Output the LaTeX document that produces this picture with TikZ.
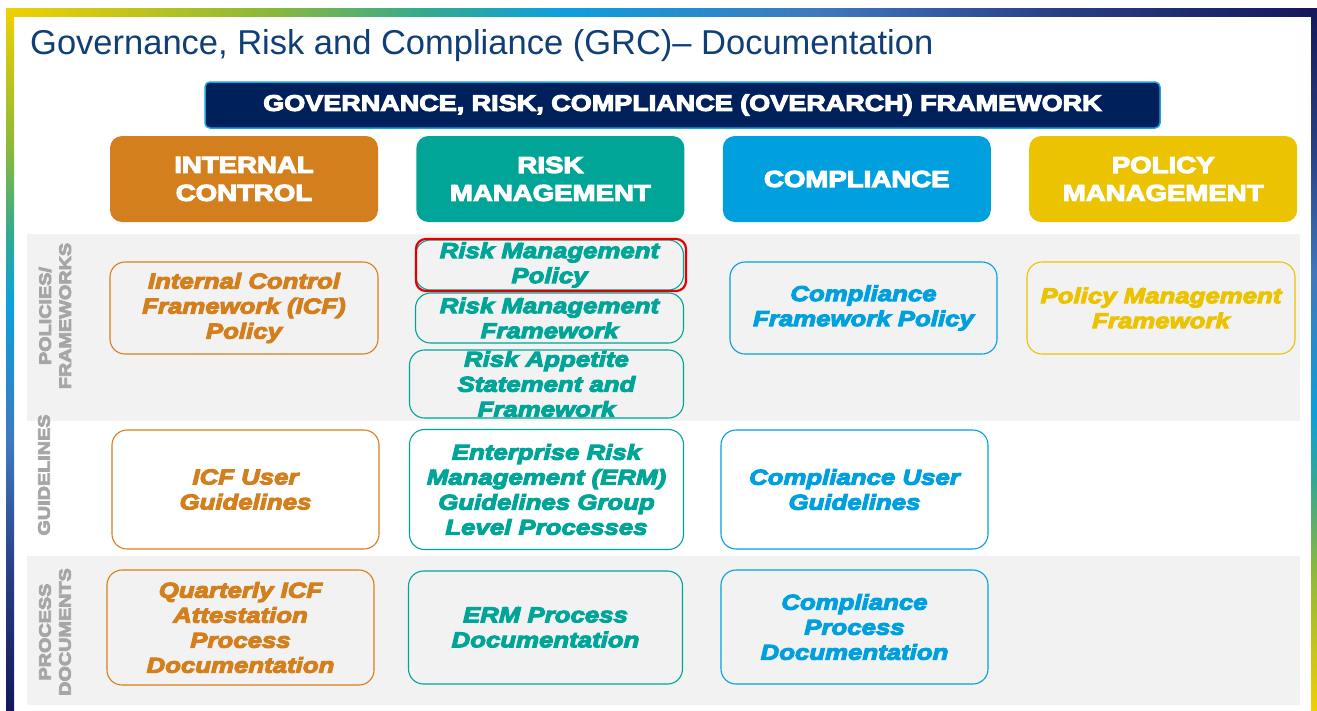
\documentclass[tikz,border=0pt]{standalone}
\usepackage{fontspec}
\setmainfont{Liberation Sans}
\newfontfamily\schwer{Liberation Sans}[FakeStretch=1.2,FakeBold=5]
\usetikzlibrary{positioning}
\usetikzlibrary{fit}

% Farbverlauf fuer den Rahmen
\definecolor{rgelb}{RGB}{240,208,0}
\definecolor{rgruen}{RGB}{140,184,58}
\definecolor{rtuerkis}{RGB}{52,170,142}
\definecolor{rcyan}{RGB}{13,160,220}
\definecolor{rstahl}{RGB}{63,120,191}
\definecolor{rdunkel}{RGB}{42,63,134}
\definecolor{rnavy}{RGB}{20,24,90}
\pgfdeclarehorizontalshading{rahmen}{100bp}{color(0bp)=(rgelb); color(25bp)=(rgelb);
  color(35bp)=(rgruen); color(41bp)=(rtuerkis); color(46bp)=(rcyan);
  color(56bp)=(rstahl); color(65bp)=(rdunkel); color(75bp)=(rnavy); color(100bp)=(rnavy)}

\begin{document}
\begin{tikzpicture}[x=1pt, y=-1pt,
    kopf/.style={rounded corners=12pt, minimum width=268pt, minimum height=86pt, inner sep=0pt,
      text=white, align=center, font=\schwer\bfseries\fontsize{23}{28}\selectfont},
    feld/.style={draw=#1, text=#1, rounded corners=15pt, line width=1.1pt, inner sep=0pt,
      align=center, font=\schwer\bfseries\itshape\fontsize{21.5}{25}\selectfont},
    seite/.style={rotate=90, align=center, text=seitengrau, inner sep=0pt,
      font=\schwer\bfseries\fontsize{16.5}{20}\selectfont}]

    % Farben
    \definecolor{titelblau}{RGB}{16,62,118}
    \definecolor{grcnavy}{RGB}{0,32,91}
    \definecolor{grcrand}{RGB}{27,161,226}
    \definecolor{icorange}{RGB}{212,127,30}
    \definecolor{rmgruen}{RGB}{0,165,152}
    \definecolor{cpblau}{RGB}{0,160,223}
    \definecolor{pmgelb}{RGB}{235,195,0}
    \definecolor{bandgrau}{RGB}{242,242,242}
    \definecolor{seitengrau}{RGB}{166,166,166}
    \definecolor{markrot}{RGB}{228,0,0}

    \useasboundingbox (0,0) rectangle (1317,710);

    % Rahmen
    \shade[shading=rahmen] (6,8) rectangle (1317,16);
    \shade[shading=rahmen, shading angle=-90] (6,8) rectangle (14,710);
    \shade[shading=rahmen, shading angle=90] (1311,8) rectangle (1317,710);

    % graue Baender
    \fill[bandgrau] (27,234) rectangle (1300,421);
    \fill[bandgrau] (27,556) rectangle (1300,705);

    % Titel
    \node[anchor=base west, inner sep=0pt, text=titelblau, font=\fontsize{34.5}{40}\selectfont]
      (titel) at (30,54) {Governance, Risk and Compliance (GRC)– Documentation};

    % Rahmenwerk
    \node[fill=grcnavy, draw=grcrand, line width=1.5pt, rounded corners=5pt, minimum width=955pt,
      minimum height=46pt, inner sep=0pt, text=white, font=\schwer\bfseries\fontsize{22.5}{25}\selectfont]
      (grc) at (682.5,105) {GOVERNANCE, RISK, COMPLIANCE (OVERARCH) FRAMEWORK};

    % Spaltenkoepfe
    \node[kopf, fill=icorange] (ic) at (244,179) {INTERNAL\\CONTROL};
    \node[kopf, fill=rmgruen, right=38pt of ic] (rm) {RISK\\MANAGEMENT};
    \node[kopf, fill=cpblau, right=38pt of rm] (cp) {COMPLIANCE};
    \node[kopf, fill=pmgelb, right=38pt of cp] (pm) {POLICY\\MANAGEMENT};

    % Zeilenbeschriftungen
    \node[seite] (zpol) at (55,316) {POLICIES/\\FRAMEWORKS};
    \node[seite] (zgui) at (44,475) {GUIDELINES};
    \node[seite] (zpro) at (55,632) {PROCESS\\DOCUMENTS};

    % Internal Control
    \node[feld=icorange, minimum width=268pt, minimum height=92pt] (icpol) at (244,308)
      {Internal Control\\Framework (ICF)\\Policy};
    \node[feld=icorange, minimum width=267pt, minimum height=119pt] (icgui) at (245.5,489.5)
      {ICF User\\Guidelines};
    \node[feld=icorange, minimum width=267pt, minimum height=115pt] (icpro) at (240.5,627.5)
      {Quarterly ICF\\Attestation\\Process\\Documentation};

    % Risk Management
    \node[feld=rmgruen, minimum width=268pt, minimum height=50pt] (rmpol) at (549.5,265)
      {Risk Management\\Policy};
    \node[feld=rmgruen, minimum width=268pt, minimum height=50pt] (rmfw) at (549.5,318)
      {Risk Management\\Framework};
    \node[feld=rmgruen, minimum width=274pt, minimum height=68pt] (rmras) at (546.5,384)
      {Risk Appetite\\Statement and\\Framework};
    \node[feld=rmgruen, minimum width=274pt, minimum height=120pt] (rmgui) at (546.5,489.5)
      {Enterprise Risk\\Management (ERM)\\Guidelines Group\\Level Processes};
    \node[feld=rmgruen, minimum width=274pt, minimum height=113pt] (rmpro) at (545.5,627.5)
      {ERM Process\\Documentation};
    \node[fit=(rmpol), draw=markrot, line width=2.2pt, rounded corners=10pt, inner sep=0.5pt,
      xshift=1.5pt] (markierung) {};

    % Compliance
    \node[feld=cpblau, minimum width=267pt, minimum height=92pt] (cppol) at (863.5,308)
      {Compliance\\Framework Policy};
    \node[feld=cpblau, minimum width=267pt, minimum height=119pt] (cpgui) at (854.5,489.5)
      {Compliance User\\Guidelines};
    \node[feld=cpblau, minimum width=267pt, minimum height=114pt] (cppro) at (854.5,627)
      {Compliance\\Process\\Documentation};

    % Policy Management
    \node[feld=pmgelb, minimum width=268pt, minimum height=92pt] (pmfw) at (1161,308)
      {Policy Management\\Framework};

\end{tikzpicture}
\end{document}
